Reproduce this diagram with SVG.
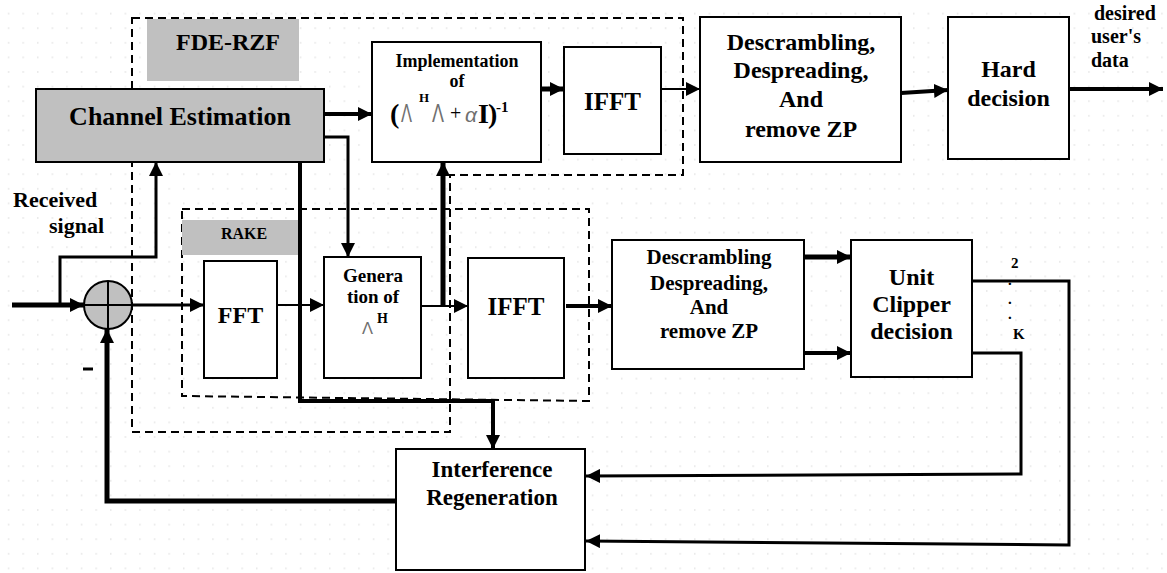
<svg xmlns="http://www.w3.org/2000/svg" width="1167" height="573" viewBox="0 0 1167 573">
<defs>
<style>
.b{fill:#fff;stroke:#000;stroke-width:2}
.gr{fill:#c0c0c0}
.t{font-family:"Liberation Serif","Times New Roman",Tinos,"DejaVu Serif",serif;font-weight:bold;fill:#000;text-anchor:middle}
.tl{font-family:"Liberation Serif","Times New Roman",Tinos,"DejaVu Serif",serif;font-weight:bold;fill:#000}
.thin{font-family:"Liberation Sans",Arial,sans-serif;font-weight:normal;fill:#707070}
.dash{fill:none;stroke:#000;stroke-width:2;stroke-dasharray:8 5}
.c{fill:none;stroke:#000;stroke-linejoin:miter}
</style>
<marker id="ah" viewBox="0 0 10 10" markerUnits="userSpaceOnUse" markerWidth="14" markerHeight="14" refX="10" refY="5" orient="auto"><path d="M0,0 L10,5 L0,10 z" fill="#000"/></marker>
<pattern id="dots" width="14.6" height="14.6" patternUnits="userSpaceOnUse"><rect x="8" y="13" width="1.2" height="1.2" fill="#d4d4d4"/></pattern>
</defs>
<rect width="1167" height="573" fill="#fff"/>
<rect width="1167" height="573" fill="url(#dots)"/>

<g id="groups">
<path class="dash" d="M132,18 H683 V175 H450 V432 H132 Z"/>
<path class="dash" d="M182,209 H589 V401 L182,396 Z"/>
</g>

<g id="connectors">
<path class="c" stroke-width="4" d="M324,114 H372" marker-end="url(#ah)"/>
<path class="c" stroke-width="3" d="M324,137 H348 V257" marker-end="url(#ah)"/>
<path class="c" stroke-width="4" d="M300,162 V401 H493 V449" marker-end="url(#ah)"/>
<path class="c" stroke-width="3" d="M60,305 V257 H156 V162" marker-end="url(#ah)"/>
<path class="c" stroke-width="5" d="M12,305 H84" marker-end="url(#ah)"/>
<path class="c" stroke-width="3" d="M132,305 H204" marker-end="url(#ah)"/>
<path class="c" stroke-width="2" d="M277,305 H324" marker-end="url(#ah)"/>
<path class="c" stroke-width="2" d="M421,306 H468" marker-end="url(#ah)"/>
<path class="c" stroke-width="5" d="M443,306 V162" marker-end="url(#ah)"/>
<path class="c" stroke-width="4" d="M566,306 H612" marker-end="url(#ah)"/>
<path class="c" stroke-width="5" d="M804,257 H851" marker-end="url(#ah)"/>
<path class="c" stroke-width="4" d="M804,353 H851" marker-end="url(#ah)"/>
<path class="c" stroke-width="5" d="M541,89 H564" marker-end="url(#ah)"/>
<path class="c" stroke-width="2" d="M661,89 H700" marker-end="url(#ah)"/>
<path class="c" stroke-width="4" d="M901,93 L948,90" marker-end="url(#ah)"/>
<path class="c" stroke-width="4" d="M1069,89 H1163" marker-end="url(#ah)"/>
<path class="c" stroke-width="3" d="M972,281 H1069 V545 L586,541" marker-end="url(#ah)"/>
<path class="c" stroke-width="3" d="M972,353 H1021 V474 L586,476" marker-end="url(#ah)"/>
<path class="c" stroke-width="5" d="M396,501 H107 V329" marker-end="url(#ah)"/>
</g>

<g id="fde-rzf-label">
<rect class="gr" x="147" y="19" width="152" height="62"/>
<text class="t" x="228" y="50" font-size="24">FDE-RZF</text>
</g>

<g id="channel-estimation">
<rect class="b" x="36" y="89" width="288" height="73" style="fill:#c0c0c0"/>
<text class="t" x="180" y="125" font-size="26">Channel Estimation</text>
</g>

<g id="implementation">
<rect class="b" x="372" y="42" width="169" height="120"/>
<text class="t" x="457" y="67" font-size="18">Implementation</text>
<text class="t" x="457" y="87" font-size="18">of</text>
<text class="tl" x="390" y="123" font-size="28">(</text>
<text class="thin" x="401" y="122" font-size="26" textLength="11" lengthAdjust="spacingAndGlyphs">Λ</text>
<text class="tl" x="419" y="102" font-size="13">H</text>
<text class="thin" x="432" y="122" font-size="26" textLength="12" lengthAdjust="spacingAndGlyphs">Λ</text>
<text class="tl" x="450" y="120" font-size="20" style="font-weight:normal">+</text>
<text class="thin" x="465" y="122" font-size="21" font-style="italic">α</text>
<text class="tl" x="478" y="123" font-size="28">I</text>
<text class="tl" x="488" y="123" font-size="28">)</text>
<text class="tl" x="496" y="112" font-size="15">-1</text>
</g>

<g id="ifft-top">
<rect class="b" x="564" y="47" width="97" height="107"/>
<text class="t" x="612.5" y="110" font-size="25">IFFT</text>
</g>

<g id="descrambling-top">
<rect class="b" x="700" y="17" width="201" height="145"/>
<text class="t" x="801" y="50" font-size="24">Descrambling,</text>
<text class="t" x="801" y="78" font-size="24">Despreading,</text>
<text class="t" x="801" y="107" font-size="24">And</text>
<text class="t" x="801" y="137" font-size="24">remove ZP</text>
</g>

<g id="hard-decision">
<rect class="b" x="948" y="17" width="121" height="142"/>
<text class="t" x="1008.5" y="77" font-size="24">Hard</text>
<text class="t" x="1008.5" y="106" font-size="24">decision</text>
</g>

<g id="output-label">
<text class="tl" x="1094" y="20" font-size="20">desired</text>
<text class="tl" x="1091" y="43" font-size="20">user's</text>
<text class="tl" x="1091" y="67" font-size="20">data</text>
</g>

<g id="received-signal">
<text class="tl" x="13" y="207" font-size="22">Received</text>
<text class="tl" x="49" y="233" font-size="22">signal</text>
</g>

<g id="sum">
<circle cx="108" cy="305" r="24" fill="#c0c0c0" stroke="#000" stroke-width="2"/>
<path d="M84,305 H132 M108,281 V329" stroke="#000" stroke-width="2"/>
<path d="M83,369 H93" stroke="#000" stroke-width="3"/>
</g>

<g id="rake-label">
<rect class="gr" x="182" y="220" width="116" height="35"/>
<text class="t" x="244" y="239" font-size="16">RAKE</text>
</g>

<g id="fft">
<rect class="b" x="204" y="261" width="73" height="117"/>
<text class="t" x="240.5" y="323" font-size="24">FFT</text>
</g>

<g id="generation">
<rect class="b" x="324" y="257" width="97" height="121"/>
<text class="t" x="373" y="282" font-size="19">Genera</text>
<text class="t" x="373" y="303" font-size="19">tion of</text>
<text class="thin" x="362" y="334" font-size="17" textLength="11" lengthAdjust="spacingAndGlyphs">Λ</text>
<text class="tl" x="377" y="323" font-size="14">H</text>
</g>

<g id="ifft-low">
<rect class="b" x="468" y="258" width="96" height="120"/>
<text class="t" x="516" y="315" font-size="25">IFFT</text>
</g>

<g id="descrambling-low">
<rect class="b" x="612" y="240" width="192" height="129"/>
<text class="t" x="709" y="264" font-size="21">Descrambling</text>
<text class="t" x="709" y="290" font-size="21">Despreading,</text>
<text class="t" x="709" y="314" font-size="21">And</text>
<text class="t" x="709" y="338" font-size="21">remove ZP</text>
</g>

<g id="unit-clipper">
<rect class="b" x="851" y="240" width="121" height="137"/>
<text class="t" x="911.5" y="285" font-size="24">Unit</text>
<text class="t" x="911.5" y="312" font-size="24">Clipper</text>
<text class="t" x="911.5" y="339" font-size="24">decision</text>
</g>

<g id="user-index">
<text class="tl" x="1011" y="268" font-size="15">2</text>
<text class="tl" x="1008" y="285" font-size="15">.</text>
<text class="tl" x="1008" y="304" font-size="15">.</text>
<text class="tl" x="1008" y="319" font-size="15">.</text>
<text class="tl" x="1013" y="339" font-size="15">K</text>
</g>

<g id="interference">
<rect class="b" x="396" y="449" width="189" height="121"/>
<text class="t" x="492" y="477" font-size="23">Interference</text>
<text class="t" x="492" y="505" font-size="23">Regeneration</text>
</g>
</svg>
